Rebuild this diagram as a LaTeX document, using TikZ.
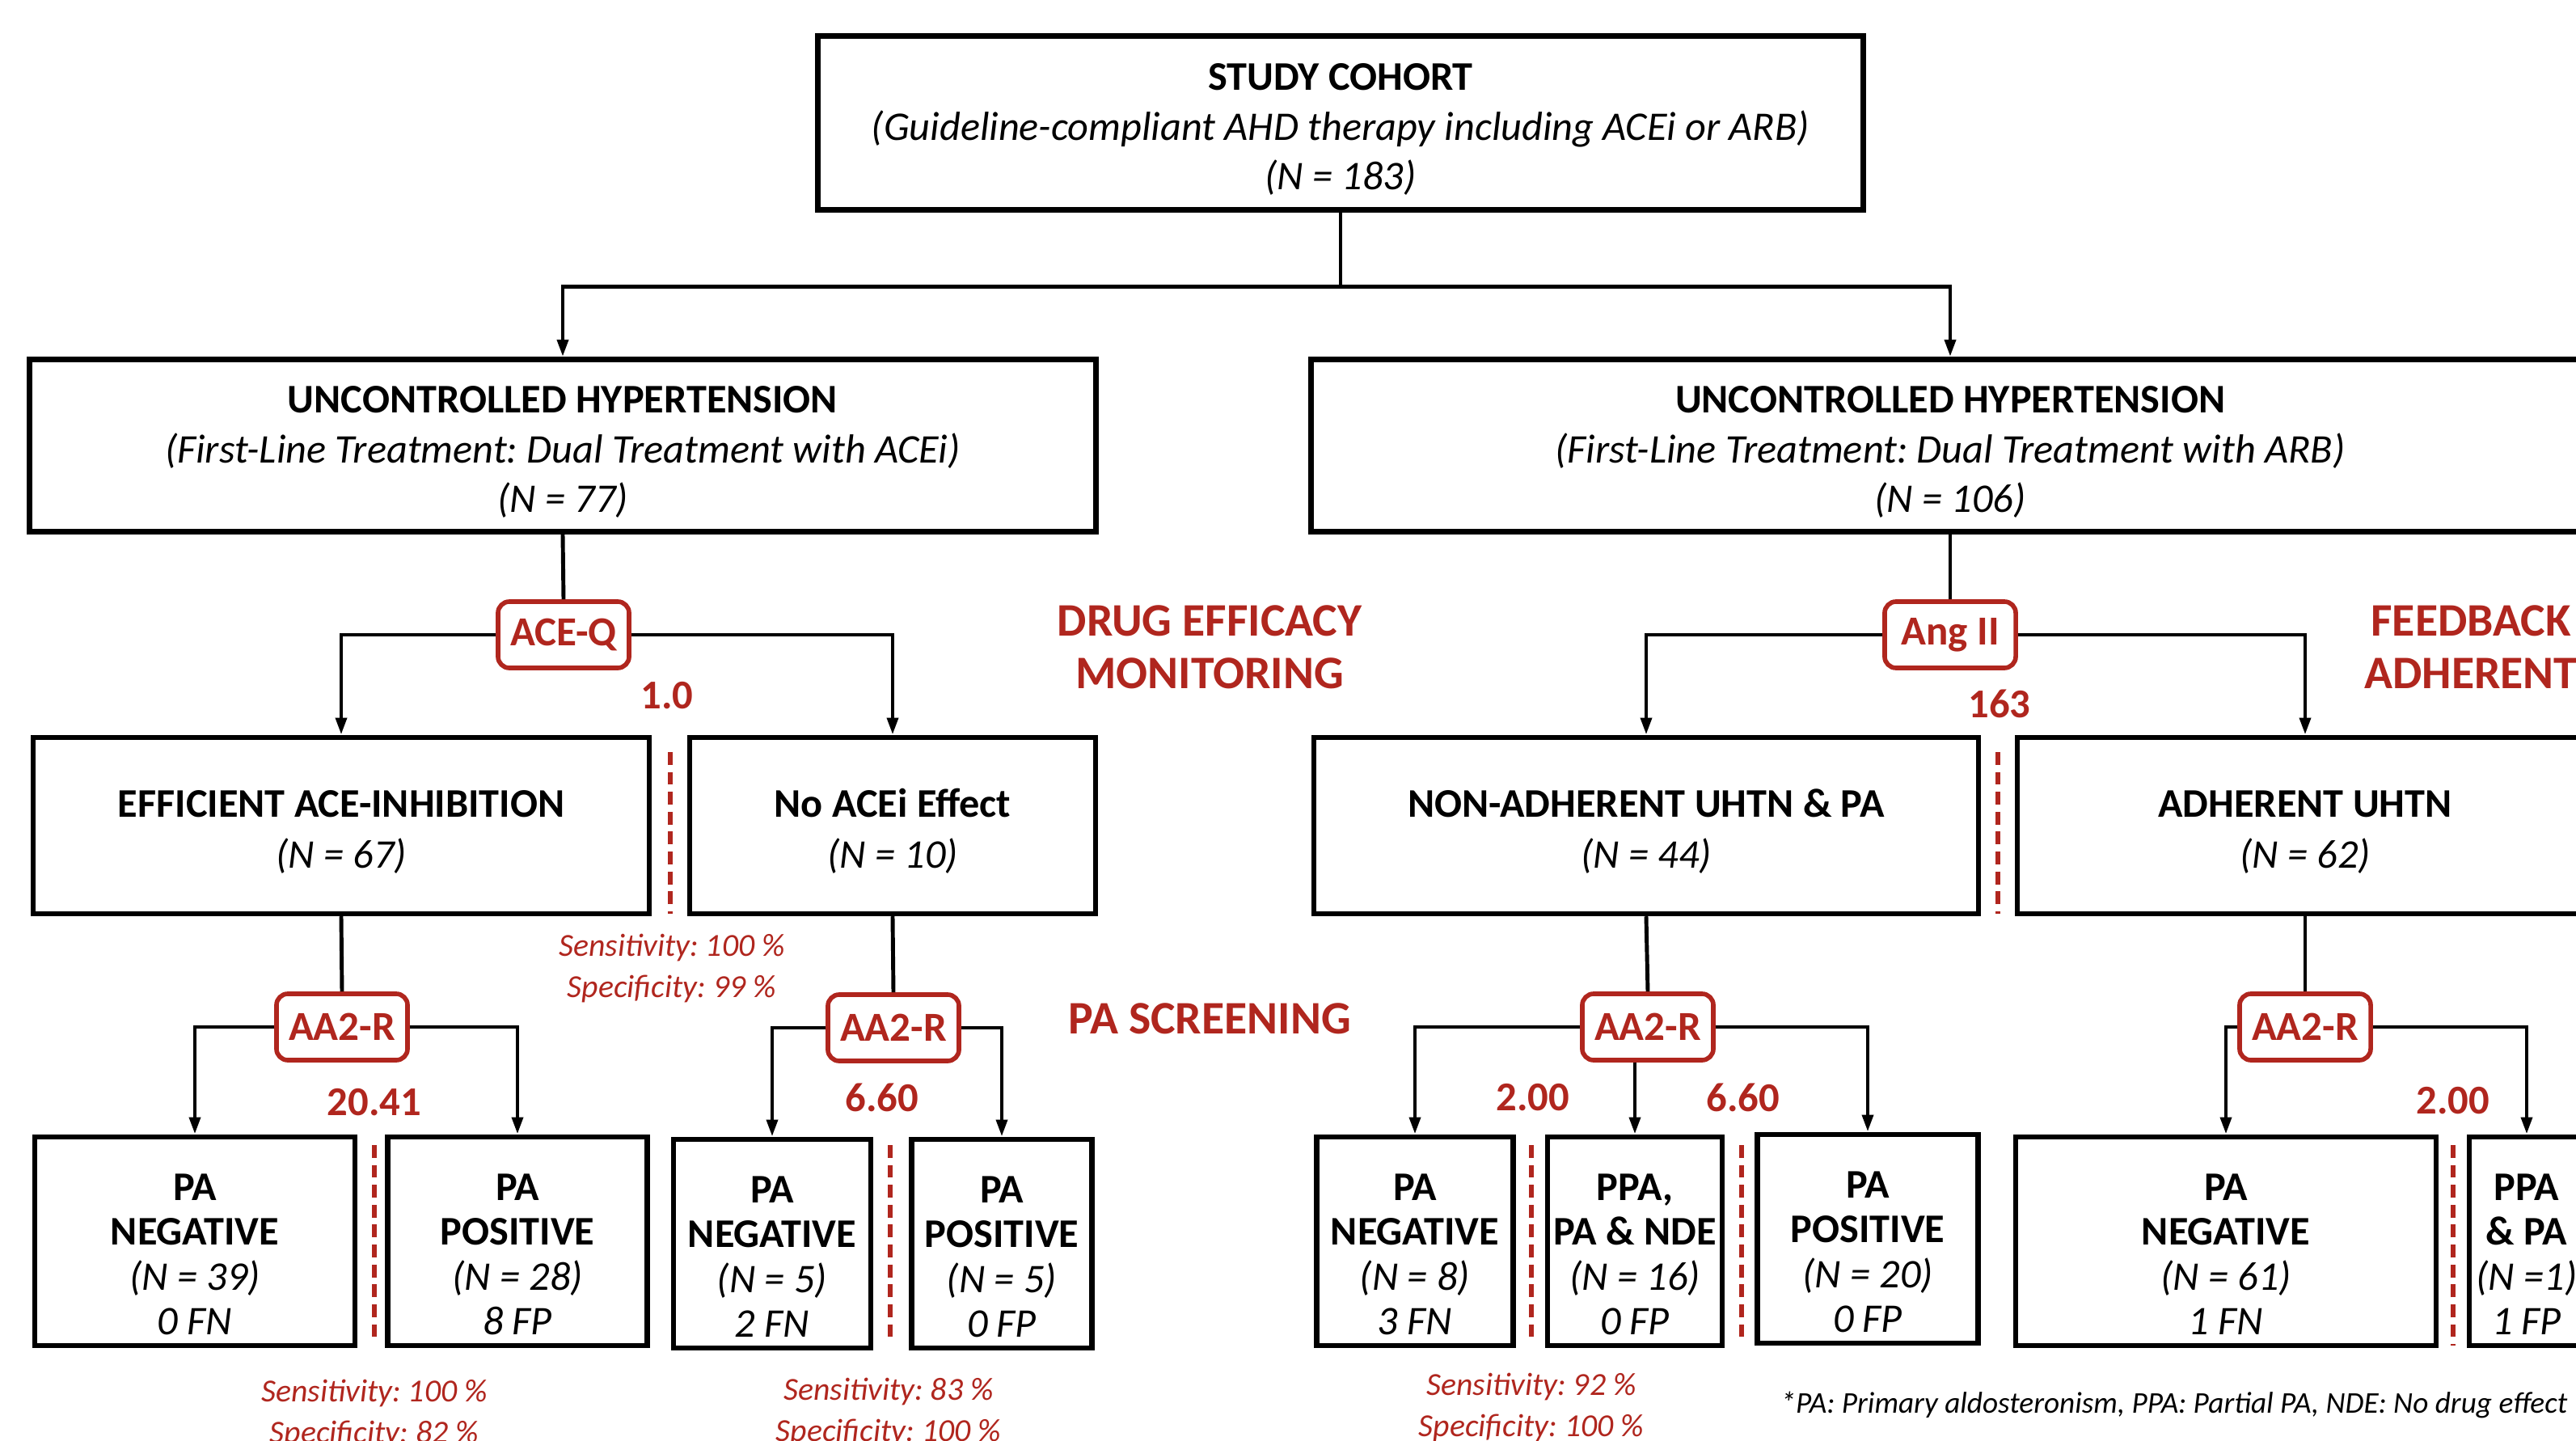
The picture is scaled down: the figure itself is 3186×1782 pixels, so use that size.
\documentclass[tikz,border=0pt]{standalone}
\usepackage{fontspec}
\setmainfont{Carlito}
\usetikzlibrary{arrows.meta}
\definecolor{rdred}{RGB}{176,38,30}
\newcommand{\boxgap}{\rule{0pt}{14pt}}
\newcommand{\leafgap}{\rule{0pt}{18.5pt}}

\begin{document}
\frenchspacing
\begin{tikzpicture}[x = 0.01cm, y = -0.01cm, % one unit = one pixel, y down
                > = {Triangle[length=6pt, width=3.8pt]}, % arrow head style
                line width = 1.4pt % line style
            ]

            \tikzstyle{box}=[draw = black, line width = 1.8pt, align = center,
            inner sep = 0pt, font = \fontsize{14.3}{17.4}\selectfont]
            \tikzstyle{midbox}=[box, minimum height = 2.18cm,
            font = \fontsize{14.3}{18}\selectfont]
            \tikzstyle{leafbox}=[box, minimum height = 2.58cm,
            font = \fontsize{14.3}{15.8}\selectfont]
            \tikzstyle{testbox}=[draw = rdred, line width = 1.6pt, fill = white,
            rounded corners = 4pt, minimum width = 1.62cm, minimum height = 0.82cm,
            inner sep = 0pt, text = rdred, font = \bfseries\fontsize{14.5}{16}\selectfont]
            \tikzstyle{cutoff}=[text = rdred, inner sep = 0pt,
            font = \bfseries\fontsize{14.4}{16}\selectfont]
            \tikzstyle{stats}=[text = rdred, align = center, inner sep = 0pt,
            font = \itshape\fontsize{11.3}{14.5}\selectfont]
            \tikzstyle{phase}=[text = rdred, align = center, inner sep = 0pt,
            font = \bfseries\fontsize{16.4}{18.5}\selectfont]
            \tikzstyle{cutline}=[draw = rdred, line width = 1.5pt,
            dash pattern = on 4.5pt off 2.5pt]

            \useasboundingbox (0,0) rectangle (3186,1782);
            \clip (0,0) rectangle (3186,1782);

            % top levels
            \node[box, minimum width = 12.92cm, minimum height = 2.15cm] (cohort)
            at (1658,152) {\boxgap\textbf{STUDY COHORT}\\ \textit{(Guideline-compliant
            AHD therapy including ACEi or ARB)}\\ \textit{(N = 183)}};
            \node[box, minimum width = 13.18cm, minimum height = 2.13cm] (uhA)
            at (696,551) {\boxgap\textbf{UNCONTROLLED HYPERTENSION}\\ \textit{(First-Line
            Treatment: Dual Treatment with ACEi)}\\ \textit{(N = 77)}};
            \node[box, minimum width = 15.80cm, minimum height = 2.13cm] (uhB)
            at (2412,551) {\boxgap\textbf{UNCONTROLLED HYPERTENSION}\\ \textit{(First-Line
            Treatment: Dual Treatment with ARB)}\\ \textit{(N = 106)}};

            % drug efficacy / adherence
            \node[midbox, minimum width = 7.62cm] (effA) at (422,1021)
            {\boxgap\textbf{EFFICIENT ACE-INHIBITION}\\ \textit{(N = 67)}};
            \node[midbox, minimum width = 5.02cm] (noA) at (1104,1021)
            {\boxgap\textbf{No ACEi Effect}\\ \textit{(N = 10)}};
            \node[midbox, minimum width = 8.21cm] (nonB) at (2036,1021)
            {\boxgap\textbf{NON-ADHERENT UHTN \& PA}\\ \textit{(N = 44)}};
            \node[midbox, minimum width = 7.12cm] (adhB) at (2851,1021)
            {\boxgap\textbf{ADHERENT UHTN}\\ \textit{(N = 62)}};

            % PA screening results
            \node[leafbox, minimum width = 3.96cm] (negA1) at (241,1535)
            {\leafgap\textbf{PA}\\ \textbf{NEGATIVE}\\ \textit{(N = 39)}\\ \textit{0 FN}};
            \node[leafbox, minimum width = 3.21cm] (posA1) at (640,1535)
            {\leafgap\textbf{PA}\\ \textbf{POSITIVE}\\ \textit{(N = 28)}\\ \textit{8 FP}};
            \node[leafbox, minimum width = 2.44cm] (negA2) at (955,1538)
            {\leafgap\textbf{PA}\\ \textbf{NEGATIVE}\\ \textit{(N = 5)}\\ \textit{2 FN}};
            \node[leafbox, minimum width = 2.23cm] (posA2) at (1239,1538)
            {\leafgap\textbf{PA}\\ \textbf{POSITIVE}\\ \textit{(N = 5)}\\ \textit{0 FP}};
            \node[leafbox, minimum width = 2.43cm] (negB1) at (1750,1535)
            {\leafgap\textbf{PA}\\ \textbf{NEGATIVE}\\ \textit{(N = 8)}\\ \textit{3 FN}};
            \node[leafbox, minimum width = 2.16cm] (ppaB1) at (2022,1535)
            {\leafgap\textbf{PPA,}\\ \textbf{PA \& NDE}\\ \textit{(N = 16)}\\ \textit{0 FP}};
            \node[leafbox, minimum width = 2.73cm] (posB1) at (2310,1532)
            {\leafgap\textbf{PA}\\ \textbf{POSITIVE}\\ \textit{(N = 20)}\\ \textit{0 FP}};
            \node[leafbox, minimum width = 5.20cm] (negB2) at (2753,1535)
            {\leafgap\textbf{PA}\\ \textbf{NEGATIVE}\\ \textit{(N = 61)}\\ \textit{1 FN}};
            \node[leafbox, minimum width = 1.42cm] (ppaB2) at (3125,1535)
            {\leafgap\textbf{PPA}\\ \textbf{\& PA}\\ \textit{(N =1)}\\ \textit{1 FP}};

            % tests
            \node[testbox] (aceq) at (697,785) {ACE-Q};
            \node[testbox] (ang) at (2412,785) {Ang II};
            \node[testbox] (aa1) at (423,1270) {AA2-R};
            \node[testbox] (aa2) at (1105,1271) {AA2-R};
            \node[testbox] (aa3) at (2038,1270) {AA2-R};
            \node[testbox] (aa4) at (2851,1270) {AA2-R};

            % cut-off values
            \node[cutoff] (c1) at (825,860) {1.0};
            \node[cutoff] (c2) at (2473,870) {163};
            \node[cutoff] (c3) at (463,1363) {20.41};
            \node[cutoff] (c4) at (1091,1357) {6.60};
            \node[cutoff] (c5) at (1896,1357) {2.00};
            \node[cutoff] (c6) at (2156,1357) {6.60};
            \node[cutoff] (c7) at (3034,1361) {2.00};

            \draw[cutline] (829,930) -- (829,1130);
            \draw[cutline] (2471,930) -- (2471,1130);
            \draw[cutline] (463,1416) -- (463,1660);
            \draw[cutline] (1101,1416) -- (1101,1660);
            \draw[cutline] (1894,1416) -- (1894,1660);
            \draw[cutline] (2154,1416) -- (2154,1660);
            \draw[cutline] (3034,1416) -- (3034,1664);

            % sensitivity / specificity
            \node[stats] (s1) at (831,1197) {Sensitivity: 100 \%\\ Specificity: 99 \%};
            \node[stats] (s2) at (463,1748) {Sensitivity: 100 \%\\ Specificity: 82 \%};
            \node[stats] (s3) at (1099,1746) {Sensitivity: 83 \%\\ Specificity: 100 \%};
            \node[stats] (s4) at (1894,1740) {Sensitivity: 92 \%\\ Specificity: 100 \%};

            \node[phase] (drug) at (1496,800) {DRUG EFFICACY\\ MONITORING};
            \node[phase] (screen) at (1496,1260) {PA SCREENING};
            \node[phase] (feed) at (3056,800) {FEEDBACK\\ ADHERENT};

            \node[anchor = west, inner sep = 0pt,
            font = \itshape\fontsize{10.6}{13}\selectfont] (note) at (2200,1737)
            {*PA: Primary aldosteronism, PPA: Partial PA, NDE: No drug effect};

            % connectors
            \draw (cohort.south) -- ++(0,92) coordinate (split);
            \draw[->] (split) -| (uhA.north); \draw[->] (split) -| (uhB.north);

            \draw (uhA.south) -- (aceq.north);
            \draw[->] (aceq.west) -| (effA.north); \draw[->] (aceq.east) -| (noA.north);
            \draw (uhB.south) -- (ang.north);
            \draw[->] (ang.west) -| (nonB.north); \draw[->] (ang.east) -| (adhB.north);

            \draw (effA.south) -- (aa1.north);
            \draw[->] (aa1.west) -| (negA1.north); \draw[->] (aa1.east) -| (posA1.north);
            \draw (noA.south) -- (aa2.north);
            \draw[->] (aa2.west) -| (negA2.north); \draw[->] (aa2.east) -| (posA2.north);
            \draw (nonB.south) -- (aa3.north);
            \draw[->] (aa3.west) -| (negB1.north); \draw[->] (aa3.east) -| (posB1.north);
            \draw[->] (aa3.south -| ppaB1.north) -- (ppaB1.north);
            \draw (adhB.south) -- (aa4.north);
            \draw[->] (aa4.west) -| (negB2.north); \draw[->] (aa4.east) -| (ppaB2.north);
\end{tikzpicture}
\end{document}
